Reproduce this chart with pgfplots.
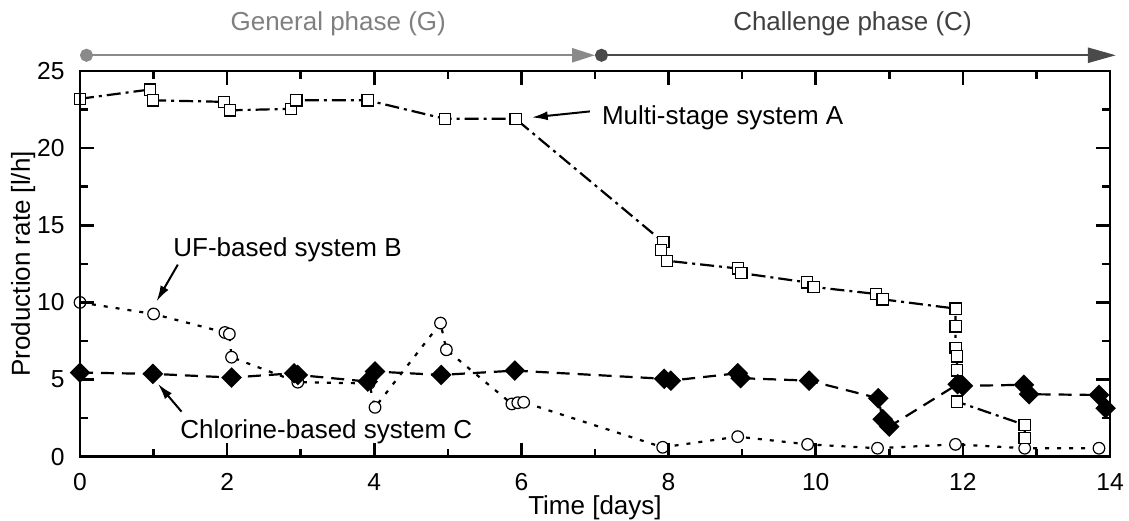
\documentclass[border=0pt]{standalone}
\usepackage{fontspec}
\setmainfont{Liberation Sans}
\usepackage{pgfplots}
\usepackage{pgfplotstable}
\pgfplotsset{compat=1.18}
\usetikzlibrary{arrows.meta}
\definecolor{phaseG}{HTML}{8A8A8A}
\definecolor{phaseGt}{HTML}{808080}
\definecolor{phaseC}{HTML}{4A4A4A}
\definecolor{phaseCt}{HTML}{404040}

\pgfplotstableread{
x y
0 23.2
0.95 23.8
0.99 23.1
1.96 23.0
2.04 22.45
2.87 22.55
2.94 23.1
3.91 23.1
4.96 21.9
5.92 21.9
7.93 13.9
7.9 13.4
7.98 12.7
8.94 12.2
8.99 11.9
9.88 11.3
9.97 11.0
10.82 10.55
10.91 10.2
11.9 9.6
11.9 8.45
11.9 7.04
11.92 6.5
11.92 5.6
11.92 3.57
12.84 2.06
12.84 1.2
}\dataA

\pgfplotstableread{
x y
0 10.0
1.0 9.25
1.97 8.05
2.03 7.95
2.06 6.45
2.96 4.83
3.93 4.75
4.01 3.2
4.9 8.66
4.98 6.93
5.87 3.42
5.95 3.5
6.03 3.53
7.92 0.61
8.94 1.3
9.89 0.8
10.84 0.55
11.9 0.8
12.84 0.55
13.85 0.55
}\dataB

\pgfplotstableread{
x y
0 5.45
0.99 5.37
2.06 5.13
2.91 5.41
2.96 5.3
3.91 4.87
4.01 5.52
4.91 5.3
5.91 5.58
7.94 5.05
8.03 4.93
8.94 5.41
8.98 5.09
9.91 4.93
10.85 3.79
10.91 2.43
11.0 1.95
11.93 4.7
12.0 4.59
12.83 4.66
12.9 4.05
13.85 4.0
13.94 3.14
}\dataC

\begin{document}
\begin{tikzpicture}
\begin{axis}[
  scale only axis, width=515pt, height=192.85pt,
  xmin=0, xmax=14, ymin=0, ymax=25,
  xtick={0,2,...,14}, minor x tick num=1,
  ytick={0,5,...,25}, minor y tick num=1,
  tick align=inside,
  major tick length=7pt, minor tick length=3.8pt,
  tick style={black, line width=1.3pt},
  axis line style={line width=1.4pt},
  axis on top,
  clip mode=individual,
  /pgf/number format/assume math mode=true,
  tick label style={font=\fontsize{12.3}{14}\selectfont},
  xticklabel style={anchor=center, yshift=-12.5pt},
  yticklabel style={anchor=east, inner sep=0pt, xshift=-7.5pt},
  xlabel={Time [days]},
  ylabel={Production rate [l/h]},
  xlabel style={at={(axis description cs:0.5,-0.133)}, anchor=center, font=\fontsize{13}{15}\selectfont},
  ylabel style={at={(axis description cs:-0.0553,0.5)}, anchor=center, font=\fontsize{13}{15}\selectfont},
]
\coordinate (sw) at (rel axis cs:0,0);
\coordinate (ne) at (rel axis cs:1,1);

\addplot[black, line width=1.1pt, dash pattern=on 2pt off 4pt,
  mark=*, mark size=2.9pt, mark options={solid, fill=white, draw=black, line width=0.6pt}]
  table {\dataB};
\addplot[black, line width=1.1pt, dash pattern=on 7pt off 2.5pt on 1.5pt off 2.5pt,
  mark=square*, mark size=2.8pt, mark options={solid, fill=white, draw=black, line width=0.6pt}]
  table {\dataA};
\addplot[black, line width=1.1pt, dash pattern=on 6.5pt off 4pt,
  mark=square*, mark size=3.1pt, mark options={solid, rotate=45, fill=black}]
  table {\dataC};

% phase arrows
\draw[phaseG, line width=1.2pt, {Circle[length=6.5pt]}-{Triangle[length=11.5pt,width=7pt]}] (0,26.02) -- (7.0,26.02);
\draw[phaseC, line width=1.2pt, {Circle[length=6.5pt]}-{Triangle[length=14pt,width=7.5pt]}] (7.0,26.02) -- (14.08,26.02);
\node[phaseGt, font=\fontsize{13}{15}\selectfont] at (3.51,28.03) {General phase (G)};
\node[phaseCt, font=\fontsize{13}{15}\selectfont] at (10.5,28.03) {Challenge phase (C)};

% annotations
\node[anchor=base west, inner sep=0pt, font=\fontsize{13}{15}\selectfont] at (7.09,21.5) {Multi-stage system A};
\node[anchor=base west, inner sep=0pt, font=\fontsize{13}{15}\selectfont] at (1.264,12.95) {UF-based system B};
\node[anchor=base west, inner sep=0pt, font=\fontsize{13}{15}\selectfont] at (1.359,1.2) {Chlorine-based system C};
\draw[black, line width=1pt, -{Latex[length=8pt,width=4.5pt]}] (6.93,22.38) -- (6.14,21.99);
\draw[black, line width=1pt, -{Latex[length=8pt,width=4.5pt]}] (1.33,12.45) -- (1.04,10.06);
\draw[black, line width=1pt, -{Latex[length=8pt,width=4.5pt]}] (1.38,2.92) -- (1.06,4.72);
\end{axis}
\pgfresetboundingbox
\path[use as bounding box] ([shift={(-40pt,-31.65pt)}]sw) rectangle ([shift={(9.5pt,35.5pt)}]ne);
\end{tikzpicture}
\end{document}
